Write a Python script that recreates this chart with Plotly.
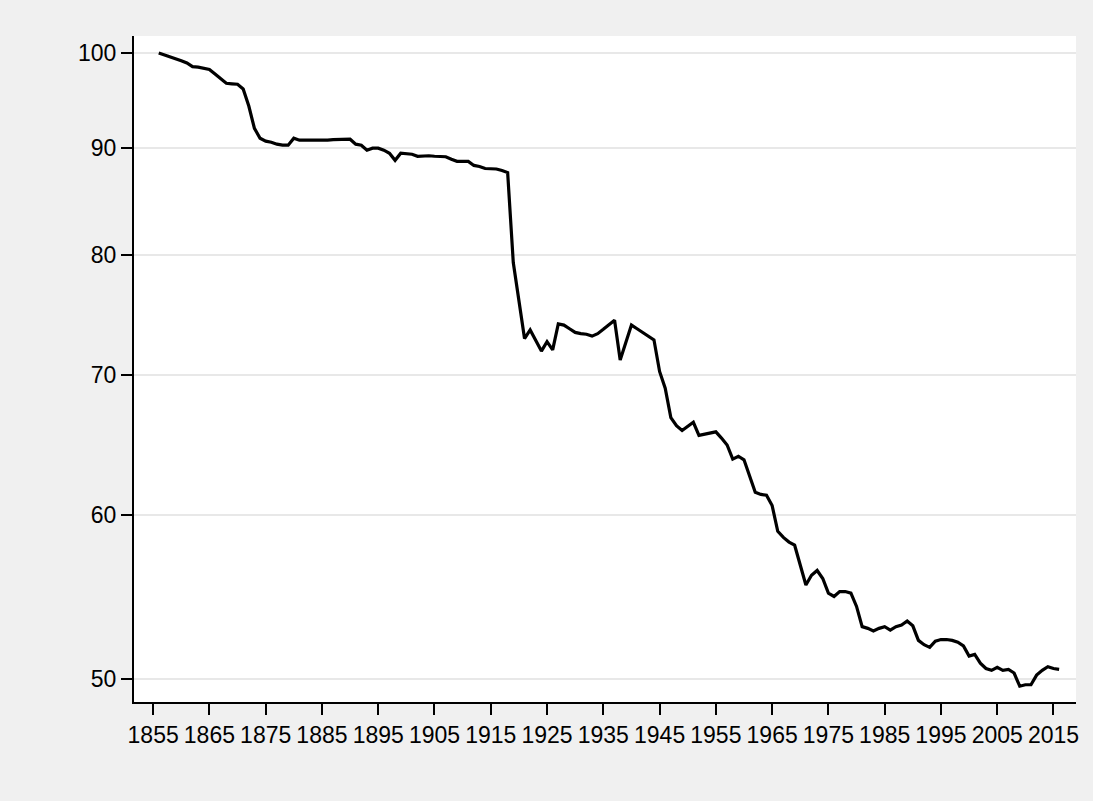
import plotly.graph_objects as go

years = list(range(1856, 2017))

values = [
    # 1856-1865
    100.0, 99.8, 99.6, 99.4, 99.15, 98.9, 98.5, 98.45, 98.35, 98.2,
    # 1866-1875
    97.7, 97.2, 96.7, 96.65, 96.6, 96.1, 94.3, 92.0, 91.0, 90.7,
    # 1876-1885
    90.6, 90.4, 90.3, 90.3, 91.0, 90.8, 90.8, 90.8, 90.75, 90.8,
    # 1886-1895
    90.8, 90.85, 90.85, 90.9, 90.9, 90.4, 90.3, 89.8, 90.0, 90.0,
    # 1896-1905
    89.8, 89.5, 88.8, 89.5, 89.45, 89.4, 89.2, 89.25, 89.25, 89.2,
    # 1906-1915
    89.2, 89.15, 88.9, 88.7, 88.7, 88.7, 88.3, 88.2, 88.0, 88.0,
    # 1916-1925
    87.95, 87.8, 87.6, 79.3, 76.0, 72.9, 73.6, 72.7, 71.9, 72.65,
    # 1926-1935
    72.0, 74.1, 74.0, 73.7, 73.4, 73.3, 73.25, 73.1, 73.3, 73.65,
    # 1936-1945
    74.0, 74.4, 71.2, 72.6, 74.0, 73.7, 73.4, 73.1, 72.8, 70.3,
    # 1946-1955
    69.0, 66.8, 66.2, 65.85, 66.15, 66.45, 65.5, 65.6, 65.7, 65.75,
    # 1956-1965
    65.3, 64.8, 63.8, 64.0, 63.75, 62.6, 61.5, 61.35, 61.3, 60.6,
    # 1966-1975
    58.9, 58.5, 58.2, 58.0, 56.7, 55.5, 56.1, 56.4, 55.9, 55.0,
    # 1976-1985
    54.8, 55.1, 55.1, 55.0, 54.2, 53.0, 52.9, 52.75, 52.9, 53.0,
    # 1986-1995
    52.8, 53.0, 53.1, 53.33, 53.05, 52.2, 51.95, 51.8, 52.16, 52.25,
    # 1996-2005
    52.25, 52.2, 52.1, 51.88, 51.3, 51.4, 50.9, 50.6, 50.5, 50.67,
    # 2006-2016
    50.5, 50.55, 50.35, 49.62, 49.7, 49.7, 50.23, 50.5, 50.7, 50.6, 50.55,
]

x_ticks = list(range(1855, 2016, 10))
y_ticks = [50, 60, 70, 80, 90, 100]
y_tick_labels = ["50", "60", "70", "80", "90", "100"]

fig = go.Figure()
fig.add_trace(go.Scatter(
    x=years, y=values, mode="lines",
    line=dict(color="#000000", width=3.2),
    showlegend=False, hoverinfo="x+y",
))

font = dict(family="Liberation Sans, Arial, sans-serif", size=23, color="#000000")

fig.update_layout(
    width=1093, height=801,
    paper_bgcolor="#f0f0f0",
    plot_bgcolor="#ffffff",
    margin=dict(l=134, r=17, t=36, b=99, pad=0),
    font=font,
    showlegend=False,
    xaxis=dict(
        range=[1851.6, 2019.0],
        tickmode="array", tickvals=x_ticks,
        ticktext=[str(t) for t in x_ticks],
        ticks="outside", ticklen=11, tickwidth=2, tickcolor="#000000",
        showline=True, linecolor="#000000", linewidth=2,
        showgrid=False, zeroline=False,
        tickfont=font,
    ),
    yaxis=dict(
        type="log",
        range=[1.68806, 2.00817],
        tickmode="array", tickvals=y_ticks, ticktext=y_tick_labels,
        ticks="outside", ticklen=11, tickwidth=2, tickcolor="#000000",
        showline=True, linecolor="#000000", linewidth=2,
        showgrid=True, gridcolor="#e8e8e8", gridwidth=2,
        zeroline=False,
        tickfont=font,
    ),
)

fig.write_html(
    "out.html",
    config={"displayModeBar": False},
    post_script="document.body.style.margin='0';document.body.style.padding='0';document.body.style.background='#f0f0f0';",
)
